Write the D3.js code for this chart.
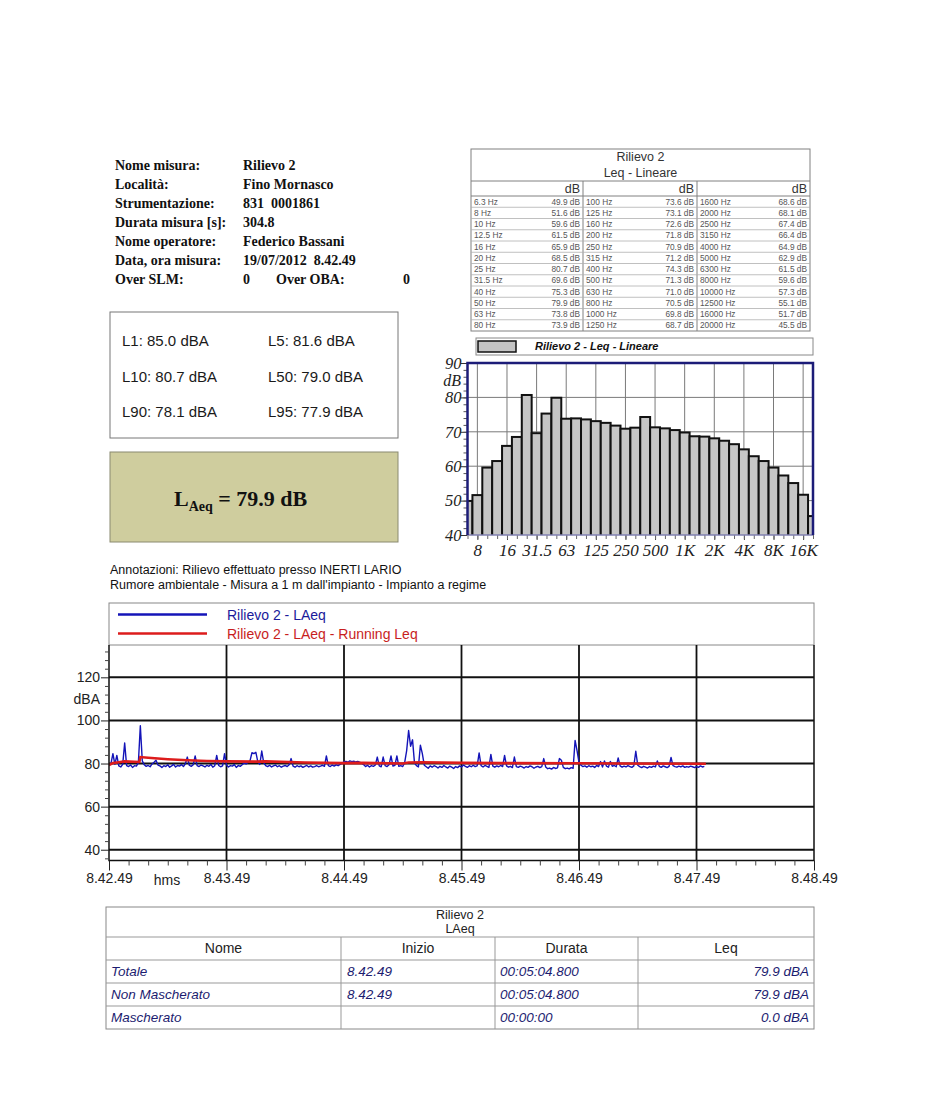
<!DOCTYPE html>
<html><head><meta charset="utf-8">
<script src="https://cdn.jsdelivr.net/npm/d3@7"></script>
<style>body{margin:0;background:#fff}svg{display:block}text{white-space:pre}</style>
</head><body>
<svg id="c" width="947" height="1105"></svg>
<script>
// ---------- DATA ----------
const infoLabels = ["Nome misura:", "Località:", "Strumentazione:", "Durata misura [s]:", "Nome operatore:", "Data, ora misura:", "Over SLM:"];
const infoValues = ["Rilievo 2", "Fino Mornasco", "831  0001861", "304.8", "Federico Bassani", "19/07/2012  8.42.49", "0"];
const overOBALabel = "Over OBA:";
const overOBAValue = "0";

const bands = ["6.3 Hz","8 Hz","10 Hz","12.5 Hz","16 Hz","20 Hz","25 Hz","31.5 Hz","40 Hz","50 Hz","63 Hz","80 Hz",
  "100 Hz","125 Hz","160 Hz","200 Hz","250 Hz","315 Hz","400 Hz","500 Hz","630 Hz","800 Hz","1000 Hz","1250 Hz",
  "1600 Hz","2000 Hz","2500 Hz","3150 Hz","4000 Hz","5000 Hz","6300 Hz","8000 Hz","10000 Hz","12500 Hz","16000 Hz","20000 Hz"];
const bandLeq = [49.9,51.6,59.6,61.5,65.9,68.5,80.7,69.6,75.3,79.9,73.8,73.9,
  73.6,73.1,72.6,71.8,70.9,71.2,74.3,71.3,71.0,70.5,69.8,68.7,
  68.6,68.1,67.4,66.4,64.9,62.9,61.5,59.6,57.3,55.1,51.7,45.5];
const histTickBands = ["8 Hz","16 Hz","31.5 Hz","63 Hz","125 Hz","250 Hz","500 Hz","1000 Hz","2000 Hz","4000 Hz","8000 Hz","16000 Hz"];
const histTickLabels = ["8","16","31.5","63","125","250","500","1K","2K","4K","8K","16K"];
const histYTicks = [40,50,60,70,80,90];

const pctNames = ["L1","L5","L10","L50","L90","L95"];
const pctValues = ["85.0","81.6","80.7","79.0","78.1","77.9"];
const laeqTotal = "79.9";

// LAeq, one value per second from 8.42.49
const laeqSeries = [
 79.2,80.0,84.6,79.6,83.8,78.9,78.4,79.6,89.5,79.0,
 78.6,79.3,78.2,79.0,78.8,80.4,97.5,81.2,79.4,78.7,
 79.1,78.5,79.8,80.6,81.5,79.3,78.9,78.2,79.0,78.6,
 79.4,78.3,78.9,79.6,78.4,79.1,78.8,79.5,78.6,79.9,
 83.0,79.2,78.7,79.4,83.5,79.0,78.6,79.3,78.9,78.4,
 79.2,78.7,79.6,78.3,79.0,83.8,79.1,78.5,78.9,84.6,
 79.3,78.4,79.0,78.8,79.5,78.2,79.1,78.7,79.4,80.2,
 79.8,80.5,81.2,85.0,84.6,85.2,80.8,79.6,85.8,80.4,
 79.0,78.6,79.2,78.4,78.9,79.3,78.5,79.0,78.3,78.8,
 79.1,78.6,79.4,82.3,78.8,78.3,79.0,78.5,78.9,78.2,
 78.7,79.1,78.4,78.9,78.3,78.6,79.0,78.5,78.8,79.2,
 78.7,83.5,79.0,78.6,79.3,78.8,79.4,79.0,79.6,80.2,
 80.8,81.0,80.6,81.2,80.9,81.1,80.7,81.0,80.6,80.3,
 79.5,78.6,79.2,78.4,79.0,78.7,79.3,83.0,78.9,78.5,
 83.0,79.0,78.6,79.4,83.5,78.8,79.2,83.5,78.7,79.0,
 78.6,80.5,86.0,95.3,88.0,91.0,80.2,79.0,78.4,88.5,
 84.6,79.2,78.5,77.8,78.9,78.3,79.0,78.6,77.9,78.7,
 78.2,79.1,78.4,77.9,78.8,78.3,77.7,78.6,78.1,78.9,
 78.4,79.3,78.7,78.2,79.0,78.5,79.2,78.6,78.9,84.9,
 79.0,78.4,79.1,78.7,78.2,84.2,78.8,78.3,78.9,78.5,
 79.1,78.6,83.8,78.9,78.3,78.7,78.1,83.0,78.6,78.2,
 78.8,78.4,77.9,78.6,78.2,78.9,78.5,77.8,78.4,78.7,
 78.1,78.6,82.3,78.4,77.6,77.9,77.4,78.2,77.7,78.0,
 82.3,81.5,78.2,77.6,77.9,77.5,78.1,77.8,90.7,86.0,
 80.5,79.2,78.6,78.9,78.3,79.0,78.5,78.8,78.2,79.1,
 78.6,80.9,78.4,81.2,78.8,78.3,81.0,78.7,79.1,78.5,
 82.6,78.9,78.3,78.8,78.4,79.0,78.6,78.2,78.9,85.7,
 79.2,78.6,78.1,78.7,78.3,77.9,78.6,78.2,78.8,78.4,
 81.2,78.7,78.2,78.9,78.5,78.1,78.7,82.8,79.0,78.6,
 78.3,78.8,78.4,78.9,78.2,78.6,78.3,78.8,78.5,78.1,
 78.6,78.2,78.9,78.4,78.7
];
const runningTimes  = [0,   2,   5,   8,   15.5, 16,  20,  30,  40,  50,  60,  75,  80,  100, 120, 130, 150, 153, 160, 180, 200, 240, 260, 304.8];
const runningValues = [79.3,80.2,80.6,81.0,80.7, 83.0,82.7,82.0,81.5,81.2,81.0,80.9,81.0,80.5,80.2,80.3,80.0,80.5,80.6,80.3,80.2,80.1,80.0,79.9];
const timeTickLabels = ["8.42.49","8.43.49","8.44.49","8.45.49","8.46.49","8.47.49","8.48.49"];
const timeYTicks = [40,60,80,100,120];
const legendNames = ["Rilievo 2 - LAeq","Rilievo 2 - LAeq - Running Leq"];

const annotations = ["Annotazioni: Rilievo effettuato presso INERTI LARIO",
  "Rumore ambientale - Misura a 1 m dall'impianto - Impianto a regime"];

const summaryHeaders = ["Nome","Inizio","Durata","Leq"];
const summaryNames = ["Totale","Non Mascherato","Mascherato"];
const summaryStart = ["8.42.49","8.42.49",""];
const summaryDur = ["00:05:04.800","00:05:04.800","00:00:00"];
const summaryLeq = ["79.9 dBA","79.9 dBA","0.0 dBA"];

// ---------- DRAW ----------
const svg = d3.select("#c");
const SERIF = "'Liberation Serif','Times New Roman',serif";
const SANS = "'Liberation Sans',Arial,sans-serif";

// Info block
const info = svg.append("g").attr("font-family", SERIF).attr("font-weight", "bold").attr("font-size", 14).attr("fill", "#111");
infoLabels.forEach((l, i) => {
  info.append("text").attr("x", 115).attr("y", 170 + i * 19).text(l);
  info.append("text").attr("x", 243).attr("y", 170 + i * 19).text(infoValues[i]);
});
info.append("text").attr("x", 276).attr("y", 170 + 6 * 19).text(overOBALabel);
info.append("text").attr("x", 403).attr("y", 170 + 6 * 19).text(overOBAValue);

// Spectrum table
(function () {
  const g = svg.append("g");
  const x0 = 471, x1 = 810, y0 = 149, yH = 181, yR = 196, y1 = 331;
  const groupEdges = [471, 583, 697, 810];
  const rowH = (y1 - yR) / 12;
  g.append("rect").attr("x", x0).attr("y", y0).attr("width", x1 - x0).attr("height", y1 - y0)
    .attr("fill", "#fff").attr("stroke", "#808080").attr("stroke-width", 1);
  g.append("text").attr("x", (x0 + x1) / 2).attr("y", 161).attr("text-anchor", "middle")
    .attr("font-family", SANS).attr("font-size", 12.5).attr("fill", "#333").text("Rilievo 2");
  g.append("text").attr("x", (x0 + x1) / 2).attr("y", 177).attr("text-anchor", "middle")
    .attr("font-family", SANS).attr("font-size", 12.5).attr("fill", "#333").text("Leq - Lineare");
  g.append("line").attr("x1", x0).attr("x2", x1).attr("y1", yH).attr("y2", yH).attr("stroke", "#808080");
  g.append("line").attr("x1", x0).attr("x2", x1).attr("y1", yR).attr("y2", yR).attr("stroke", "#808080");
  [583, 697].forEach(x => g.append("line").attr("x1", x).attr("x2", x).attr("y1", yH).attr("y2", y1).attr("stroke", "#808080"));
  for (let k = 0; k < 3; k++) {
    g.append("text").attr("x", groupEdges[k + 1] - 3).attr("y", 193).attr("text-anchor", "end")
      .attr("font-family", SANS).attr("font-size", 12.5).attr("fill", "#333").text("dB");
  }
  for (let r = 1; r < 12; r++) {
    g.append("line").attr("x1", x0).attr("x2", x1).attr("y1", yR + r * rowH).attr("y2", yR + r * rowH)
      .attr("stroke", "#b0b0b0").attr("stroke-width", 0.8);
  }
  bands.forEach((b, i) => {
    const k = Math.floor(i / 12), r = i % 12;
    const ty = yR + r * rowH + 8.6;
    g.append("text").attr("x", groupEdges[k] + 3).attr("y", ty).attr("font-family", SANS).attr("font-size", 8.3)
      .attr("fill", "#555").text(b);
    g.append("text").attr("x", groupEdges[k + 1] - 3).attr("y", ty).attr("text-anchor", "end").attr("font-family", SANS)
      .attr("font-size", 8.3).attr("fill", "#555").text(bandLeq[i].toFixed(1) + " dB");
  });
})();

// Histogram
(function () {
  const g = svg.append("g");
  // legend
  g.append("rect").attr("x", 476).attr("y", 338).attr("width", 337).attr("height", 17).attr("fill", "#fff").attr("stroke", "#888");
  g.append("rect").attr("x", 478).attr("y", 341).attr("width", 38).attr("height", 11).attr("fill", "#c4c4c4").attr("stroke", "#111").attr("stroke-width", 1.5);
  g.append("text").attr("x", 535).attr("y", 350).attr("font-family", SANS).attr("font-size", 11)
    .attr("font-weight", "bold").attr("font-style", "italic").attr("fill", "#111").text("Rilievo 2 - Leq - Lineare");

  const L = 467.5, R = 813, T = 363, B = 535;
  const x = d3.scaleLinear().domain([0, bands.length - 1]).range([L, R]);
  const y = d3.scaleLinear().domain([40, 90]).range([B, T]);
  const step = x(1) - x(0);

  g.append("defs").append("clipPath").attr("id", "hclip").append("rect")
    .attr("x", L).attr("y", T).attr("width", R - L).attr("height", B - T);

  // grid
  [50, 60, 70, 80].forEach(v => g.append("line").attr("x1", L).attr("x2", R).attr("y1", y(v)).attr("y2", y(v)).attr("stroke", "#7a7a7a").attr("stroke-width", 1));
  histTickBands.forEach(b => {
    const xi = x(bands.indexOf(b));
    g.append("line").attr("x1", xi).attr("x2", xi).attr("y1", T).attr("y2", B).attr("stroke", "#7a7a7a").attr("stroke-width", 1);
  });

  // bars
  g.append("g").attr("clip-path", "url(#hclip)").selectAll("rect").data(bandLeq).join("rect")
    .attr("x", (d, i) => x(i) - step / 2).attr("width", step)
    .attr("y", d => y(d)).attr("height", d => B - y(d) + 2)
    .attr("fill", "#c6c6c6").attr("stroke", "#111").attr("stroke-width", 2);

  // axes
  const yAxis = d3.axisLeft(y).tickValues(histYTicks).tickSize(7).tickFormat(d3.format("d"));
  const ya = g.append("g").attr("transform", `translate(${L},0)`).call(yAxis);
  ya.select(".domain").remove();
  ya.selectAll("line").attr("stroke", "#333");
  ya.selectAll("text").attr("font-family", SERIF).attr("font-style", "italic").attr("font-size", 16.5).attr("fill", "#222").attr("x", -6);
  const yMinor = d3.axisLeft(y).tickValues(d3.range(42, 90, 2)).tickSize(4).tickFormat("");
  const ym = g.append("g").attr("transform", `translate(${L},0)`).call(yMinor);
  ym.select(".domain").remove(); ym.selectAll("line").attr("stroke", "#555");
  g.append("text").attr("x", 461).attr("y", y(84.8) + 5).attr("text-anchor", "end").attr("font-family", SERIF)
    .attr("font-style", "italic").attr("font-size", 16).attr("fill", "#222").text("dB");

  const xAxis = d3.axisBottom(x).tickValues(histTickBands.map(b => bands.indexOf(b))).tickSize(5)
    .tickFormat((d, i) => histTickLabels[i]);
  const xa = g.append("g").attr("transform", `translate(0,${B})`).call(xAxis);
  xa.select(".domain").remove();
  xa.selectAll("line").attr("stroke", "#444");
  xa.selectAll("text").attr("font-family", SERIF).attr("font-style", "italic").attr("font-size", 17).attr("fill", "#222").attr("y", 9);
  const xMinor = d3.axisBottom(x).tickValues(d3.range(0, bands.length)).tickSize(4).tickFormat("");
  const xm = g.append("g").attr("transform", `translate(0,${B})`).call(xMinor);
  xm.select(".domain").remove(); xm.selectAll("line").attr("stroke", "#666");

  // frame
  g.append("line").attr("x1", L).attr("x2", R).attr("y1", B).attr("y2", B).attr("stroke", "#8080b0").attr("stroke-width", 1.5);
  g.append("path").attr("d", `M${L},${B}V${T}H${R}V${B}`).attr("fill", "none").attr("stroke", "#1c1c78").attr("stroke-width", 2.5);
})();

// Percentile box
(function () {
  const g = svg.append("g");
  g.append("rect").attr("x", 110).attr("y", 312).attr("width", 288).attr("height", 126).attr("fill", "#fff").attr("stroke", "#777");
  pctNames.forEach((n, i) => {
    const col = i % 2, row = Math.floor(i / 2);
    g.append("text").attr("x", col ? 268 : 122).attr("y", 346 + row * 35.5).attr("font-family", SANS)
      .attr("font-size", 15).attr("fill", "#1a1a1a").text(`${n}: ${pctValues[i]} dBA`);
  });
  g.append("rect").attr("x", 110).attr("y", 452).attr("width", 288).attr("height", 90).attr("fill", "#cfcd9e").attr("stroke", "#8a8a70");
  const t = g.append("text").attr("x", 174).attr("y", 506).attr("font-family", SERIF).attr("font-weight", "bold")
    .attr("font-size", 22).attr("fill", "#111");
  t.append("tspan").text("L");
  t.append("tspan").attr("font-size", 14).attr("dy", 5).text("Aeq");
  t.append("tspan").attr("dy", -5).text(" = " + laeqTotal + " dB");
})();

// Annotations
annotations.forEach((a, i) => svg.append("text").attr("x", 110).attr("y", 574 + i * 14.5).attr("font-family", SANS)
  .attr("font-size", 12.5).attr("fill", "#111").text(a));

// Time history chart
(function () {
  const g = svg.append("g");
  const L = 109, R = 814, T = 645, B = 860.5;
  const x = d3.scaleLinear().domain([0, 360]).range([L, R]);
  const y = d3.scaleLinear().domain([35, 135]).range([B, T]);
  const colors = ["#1414b8", "#dd1c1c"];
  const textColors = ["#1a1a9a", "#c81e1e"];

  // legend
  g.append("rect").attr("x", L).attr("y", 603).attr("width", R - L).attr("height", T - 603).attr("fill", "#fff").attr("stroke", "#888");
  legendNames.forEach((n, i) => {
    const ly = 614.5 + i * 19;
    g.append("line").attr("x1", 118).attr("x2", 207).attr("y1", ly).attr("y2", ly).attr("stroke", colors[i]).attr("stroke-width", 2.5);
    g.append("text").attr("x", 227).attr("y", ly + 5).attr("font-family", SANS).attr("font-size", 14).attr("fill", textColors[i]).text(n);
  });

  // grid
  timeYTicks.forEach(v => g.append("line").attr("x1", L).attr("x2", R).attr("y1", y(v)).attr("y2", y(v)).attr("stroke", "#111").attr("stroke-width", 2));
  d3.range(60, 360, 60).forEach(t => g.append("line").attr("x1", x(t)).attr("x2", x(t)).attr("y1", T).attr("y2", B).attr("stroke", "#111").attr("stroke-width", 1.8));

  // series
  const line = d3.line().x((d, i) => x(i)).y(d => y(d));
  g.append("path").attr("d", line(laeqSeries)).attr("fill", "none").attr("stroke", colors[0]).attr("stroke-width", 1.4).attr("stroke-linejoin", "round");
  const rline = d3.line().x((d, i) => x(runningTimes[i])).y(d => y(d));
  g.append("path").attr("d", rline(runningValues)).attr("fill", "none").attr("stroke", colors[1]).attr("stroke-width", 2.6);

  // frame
  g.append("path").attr("d", `M${L},${T}V${B}H${R}V${T}`).attr("fill", "none").attr("stroke", "#111").attr("stroke-width", 1.5);

  // axes
  const ya = g.append("g").attr("transform", `translate(${L},0)`).call(d3.axisLeft(y).tickValues(timeYTicks).tickSize(8));
  ya.select(".domain").remove();
  ya.selectAll("line").attr("stroke", "#222");
  ya.selectAll("text").attr("font-family", SANS).attr("font-size", 14).attr("fill", "#222").attr("x", -9);
  const ym = g.append("g").attr("transform", `translate(${L},0)`).call(d3.axisLeft(y).tickValues(d3.range(36, 135, 4).filter(v => v % 20 !== 0)).tickSize(4).tickFormat(""));
  ym.select(".domain").remove(); ym.selectAll("line").attr("stroke", "#444");
  g.append("text").attr("x", 100).attr("y", y(110) + 5).attr("text-anchor", "end").attr("font-family", SANS)
    .attr("font-size", 14).attr("fill", "#222").text("dBA");

  const xa = g.append("g").attr("transform", `translate(0,${B})`).call(d3.axisBottom(x).tickValues(d3.range(0, 361, 60)).tickSize(10).tickFormat((d, i) => timeTickLabels[i]));
  xa.select(".domain").remove();
  xa.selectAll("line").attr("stroke", "#222");
  xa.selectAll("text").attr("font-family", SANS).attr("font-size", 14).attr("fill", "#222").attr("y", 13);
  const xm = g.append("g").attr("transform", `translate(0,${B})`).call(d3.axisBottom(x).tickValues(d3.range(10, 360, 10).filter(v => v % 60 !== 0)).tickSize(5).tickFormat(""));
  xm.select(".domain").remove(); xm.selectAll("line").attr("stroke", "#444");
  g.append("text").attr("x", 167).attr("y", 885).attr("text-anchor", "middle").attr("font-family", SANS)
    .attr("font-size", 14).attr("fill", "#222").text("hms");
})();

// Summary table
(function () {
  const g = svg.append("g");
  const x0 = 106, x1 = 814, y0 = 907, y1 = 1029;
  const cols = [106, 341, 495, 638, 814];
  const rowLines = [937, 960, 983, 1006];
  g.append("rect").attr("x", x0).attr("y", y0).attr("width", x1 - x0).attr("height", y1 - y0).attr("fill", "#fff").attr("stroke", "#888");
  rowLines.forEach(v => g.append("line").attr("x1", x0).attr("x2", x1).attr("y1", v).attr("y2", v).attr("stroke", "#999"));
  cols.slice(1, 4).forEach(c => g.append("line").attr("x1", c).attr("x2", c).attr("y1", 937).attr("y2", y1).attr("stroke", "#999"));
  g.append("text").attr("x", 460).attr("y", 919).attr("text-anchor", "middle").attr("font-family", SANS).attr("font-size", 12.5).attr("fill", "#222").text("Rilievo 2");
  g.append("text").attr("x", 460).attr("y", 933).attr("text-anchor", "middle").attr("font-family", SANS).attr("font-size", 12.5).attr("fill", "#222").text("LAeq");
  summaryHeaders.forEach((h, i) => g.append("text").attr("x", (cols[i] + cols[i + 1]) / 2).attr("y", 953).attr("text-anchor", "middle")
    .attr("font-family", SANS).attr("font-size", 14).attr("fill", "#222").text(h));
  const rowText = (x, yy, s, anchor) => g.append("text").attr("x", x).attr("y", yy).attr("text-anchor", anchor || "start")
    .attr("font-family", SANS).attr("font-style", "italic").attr("font-size", 13.5).attr("fill", "#1c1c70").text(s);
  summaryNames.forEach((n, i) => {
    const yy = 960 + i * 23 + 16;
    rowText(111, yy, n);
    rowText(347, yy, summaryStart[i]);
    rowText(500, yy, summaryDur[i]);
    rowText(809, yy, summaryLeq[i], "end");
  });
})();
</script>
</body></html>
